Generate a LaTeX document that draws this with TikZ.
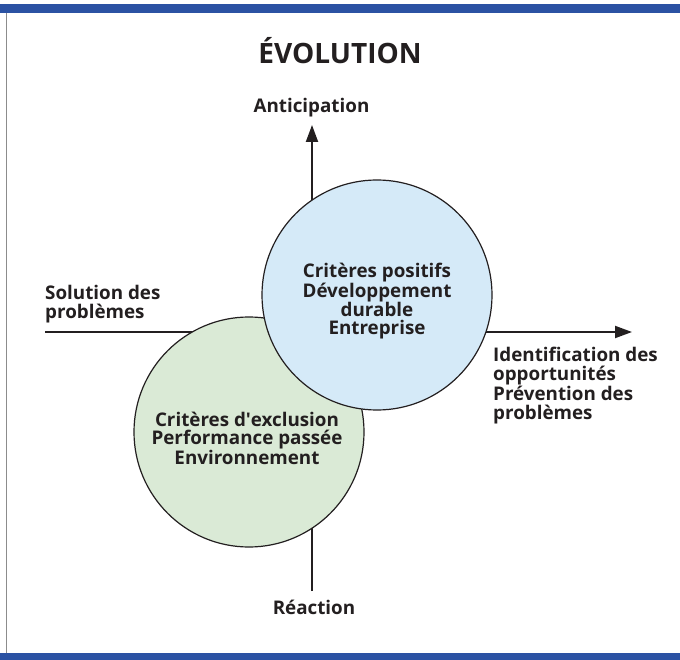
\documentclass[tikz,border=0pt]{standalone}
\usepackage{fontspec}
\setmainfont{Open Sans}
\usetikzlibrary{arrows.meta}

\definecolor{ink}{HTML}{231F20}
\definecolor{barblue}{HTML}{2B52A3}
\definecolor{framegray}{HTML}{8C8C8C}
\definecolor{skyfill}{HTML}{D5EAF8}
\definecolor{sagefill}{HTML}{DAEAD6}

\begin{document}
\begin{tikzpicture}[
  x=1pt, y=-1pt,
  axis/.style={draw=ink, line width=2pt},
  tipped/.style={-{Triangle[length=17pt,width=12pt]}},
  disc/.style={circle, draw=ink, line width=1.2pt, minimum size=230pt, inner sep=0pt},
  lbl/.style={text=ink, inner sep=0pt, font=\bfseries\fontsize{18.8}{19.5}\selectfont},
  inner/.style={text=ink, inner sep=0pt, align=center, font=\bfseries\fontsize{18.8}{18}\selectfont},
  heading/.style={text=ink, inner sep=0pt, font=\bfseries\fontsize{28}{32}\selectfont}
]
\useasboundingbox (0,0) rectangle (680,660);
\fill[white] (0,0) rectangle (680,660);

% frame: blue rules top and bottom, thin grey rule on the left
\fill[barblue] (0,4) rectangle (680,13);
\fill[barblue] (0,652.5) rectangle (680,660);
\draw[framegray, line width=1.3pt] (6.5,13) -- (6.5,652.5);

% axis end points
\coordinate (west)  at (45,332);
\coordinate (east)  at (632,332);
\coordinate (north) at (312,125);
\coordinate (south) at (312,591);

% axes
\draw[axis, tipped] (west) -- (east);
\draw[axis, tipped] (south) -- (north);

% the two circles (the blue one lies over the green one)
\node[disc, fill=sagefill] (exclusion) at (249,432) {};
\node[disc, fill=skyfill]  (positive)  at (377,295) {};

% circle texts
\node[inner] (positivetext) at (377,301)
  {Critères positifs\\Développement\\durable\\Entreprise};
\node[inner] (exclusiontext) at (247,438.5)
  {Critères d\textquotesingle exclusion\\Performance passée\\Environnement};

% title and axis labels
\node[heading, anchor=base] (title) at (340,64) {ÉVOLUTION};
\node[lbl, anchor=base] (anticipation) at (311.5,113) {Anticipation};
\node[lbl, anchor=base] (reaction) at (314,614) {Réaction};
\node[lbl, anchor=west, align=left] (solution) at (45,304)
  {Solution des\\problèmes};
\node[lbl, anchor=west, align=left] (identification) at (493,385.5)
  {Identification des\\opportunités\\Prévention des\\problèmes};
\end{tikzpicture}
\end{document}
